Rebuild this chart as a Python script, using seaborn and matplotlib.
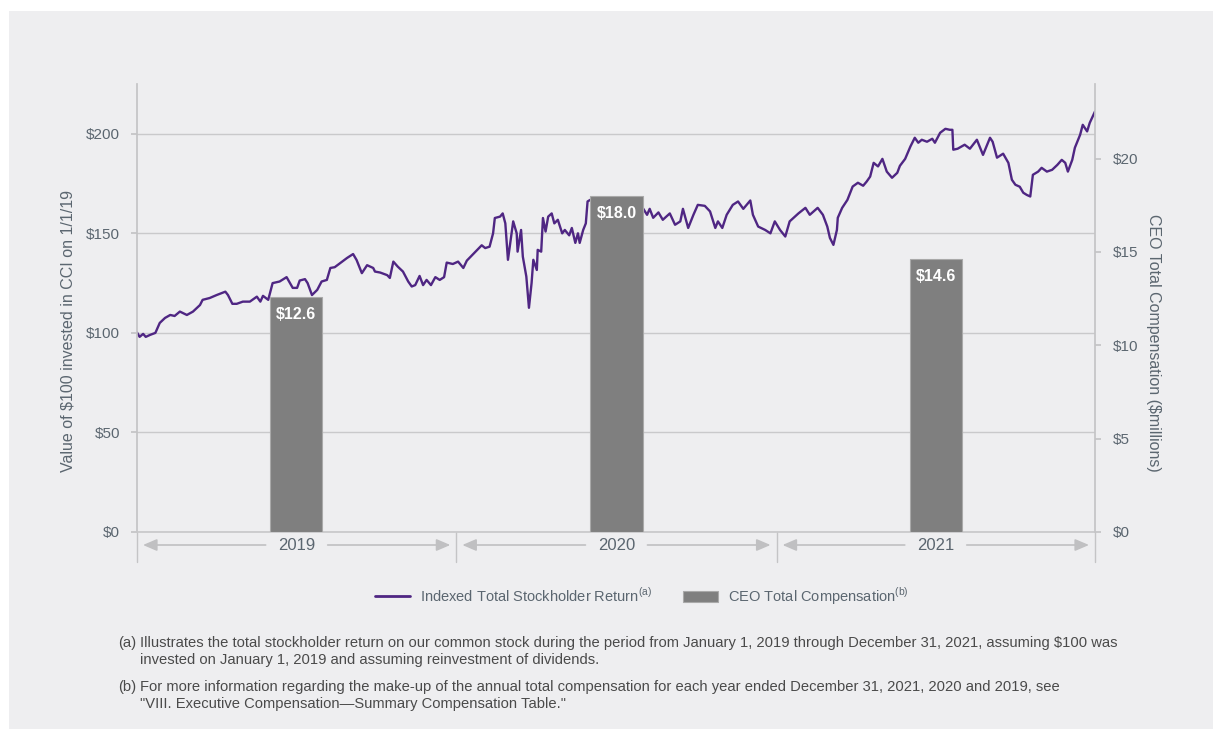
import numpy as np
import pandas as pd
import matplotlib
matplotlib.use("Agg")
import matplotlib.pyplot as plt
import matplotlib.transforms as mtransforms
import matplotlib.dates as mdates
from matplotlib.patches import Rectangle, Patch
from matplotlib.lines import Line2D
import seaborn as sns

sns.set_theme(style="white")
plt.rcParams['font.family'] = ['Liberation Sans', 'DejaVu Sans']
plt.rcParams['mathtext.fontset'] = 'custom'
plt.rcParams['mathtext.rm'] = 'Liberation Sans'

# ---------------- data ----------------
# days after 2019-01-01 and indexed TSR value
tsr_day = [0, 3, 7, 10, 15, 21, 26, 32, 38, 43, 49, 57, 64, 72, 75, 83, 91, 101, 104, 109,
           114, 121, 129, 137, 141, 144, 150, 155, 163, 171, 178, 183, 186, 192, 195, 200, 206,
           211, 217, 221, 226, 232, 240, 247, 251, 257, 263, 270, 272, 278, 286, 289, 293, 298,
           304, 310, 314, 318, 323, 327, 331, 336, 341, 346, 351, 354, 361, 367, 373, 377, 383,
           389, 394, 398, 403, 407, 409, 415, 418, 421, 424, 430, 434, 435, 439, 441, 445, 448,
           451, 453, 457, 458, 462, 464, 467, 470, 474, 477, 481, 486, 489, 494, 497, 501, 504,
           506, 510, 513, 515, 518, 535, 560, 577, 583, 586, 590, 596, 601, 609, 615, 621, 624,
           630, 636, 641, 649, 655, 661, 664, 669, 674, 681, 687, 693, 701, 704, 710, 718, 724,
           729, 735, 741, 746, 756, 764, 769, 778, 784, 789, 792, 796, 800, 801, 806, 812, 818,
           824, 830, 834, 838, 842, 847, 852, 857, 863, 869, 872, 878, 884, 889, 893, 897, 903,
           909, 912, 918, 924, 929, 932, 933, 938, 946, 952, 960, 967, 975, 978, 983, 990, 996,
           1000, 1004, 1009, 1013, 1017, 1021, 1024, 1030, 1034, 1040, 1046, 1052, 1057, 1061,
           1064, 1069, 1072, 1078, 1081, 1086, 1089, 1095]
tsr_value = [100.2, 98.0, 99.5, 98.0, 99.0, 100.0, 105.0, 107.5, 109.0, 108.5, 110.7, 109.0,
             110.7, 114.0, 116.6, 117.5, 119.0, 120.7, 119.0, 114.6, 114.6, 115.7, 115.7, 118.2,
             115.7, 118.6, 116.6, 125.0, 125.8, 128.0, 122.6, 122.6, 126.3, 127.0, 125.0, 119.0,
             121.6, 125.8, 126.6, 132.6, 133.0, 135.0, 137.6, 139.6, 136.6, 130.0, 134.0, 132.6,
             130.8, 130.3, 129.0, 127.6, 135.8, 133.3, 130.8, 125.8, 123.3, 124.0, 128.6, 124.0,
             126.6, 124.0, 128.0, 126.6, 128.0, 135.3, 134.6, 135.8, 132.6, 136.3, 139.0, 141.7,
             144.0, 142.6, 143.3, 150.0, 157.7, 158.4, 160.0, 155.0, 136.7, 156.0, 150.0, 140.8,
             151.7, 138.3, 128.3, 112.6, 125.0, 136.7, 131.6, 141.7, 140.8, 157.7, 150.9, 158.4,
             160.0, 155.0, 156.8, 150.0, 151.7, 149.0, 152.7, 145.2, 150.0, 145.2, 151.7, 155.0,
             166.0, 166.8, 165.0, 164.0, 163.5, 159.3, 162.3, 157.8, 160.5, 156.8, 160.0, 154.3,
             156.0, 162.3, 152.7, 159.3, 164.3, 163.8, 161.0, 152.7, 156.0, 152.7, 159.3, 164.3,
             166.0, 162.3, 166.5, 159.3, 153.4, 151.7, 150.0, 156.0, 151.7, 148.4, 156.0, 160.0,
             162.8, 159.3, 162.8, 159.3, 153.4, 147.7, 144.2, 151.7, 157.8, 162.8, 166.8, 173.5,
             175.4, 173.9, 176.0, 178.5, 185.4, 183.6, 187.4, 181.0, 177.9, 180.4, 183.9, 187.4,
             193.6, 198.0, 195.5, 197.0, 196.0, 197.5, 195.5, 200.5, 202.5, 202.0, 202.0, 192.0,
             192.5, 194.5, 192.5, 197.0, 189.4, 198.0, 196.0, 188.0, 190.0, 185.4, 176.9, 174.4,
             173.4, 170.4, 169.3, 168.5, 179.4, 181.0, 182.9, 181.0, 181.9, 184.4, 186.9, 185.4,
             181.0, 186.9, 193.0, 199.5, 204.5, 201.2, 205.5, 211.2]

years = ["2019", "2020", "2021"]
ceo_comp = [12.6, 18.0, 14.6]

left_ticks = [0, 50, 100, 150, 200]
left_tick_labels = ["$0", "$50", "$100", "$150", "$200"]
right_ticks = [0, 5, 10, 15, 20]
right_tick_labels = ["$0", "$5", "$10", "$15", "$20"]

line_label = "Indexed Total Stockholder Return$^{\\mathregular{(a)}}$"
bar_label = "CEO Total Compensation$^{\\mathregular{(b)}}$"
left_ylabel = "Value of $100 invested in CCI on 1/1/19"
right_ylabel = "CEO Total Compensation ($millions)"
footnotes = [
    ("(a)", ["Illustrates the total stockholder return on our common stock during the period from January 1, 2019 through December 31, 2021, assuming $100 was",
             "invested on January 1, 2019 and assuming reinvestment of dividends."]),
    ("(b)", ["For more information regarding the make-up of the annual total compensation for each year ended December 31, 2021, 2020 and 2019, see",
             "\"VIII. Executive Compensation\u2014Summary Compensation Table.\""]),
]

# ---------------- styling ----------------
W, H = 1213, 729
PURPLE = "#4f2683"
BARC = "#7f7f7f"
TXT = "#5b6670"
GRID = "#c9c9cb"
SPINE = "#c4c4c6"
PANEL = "#eeeef0"

start = pd.Timestamp("2019-01-01")
end = pd.Timestamp("2021-12-31")
df = pd.DataFrame({"date": start + pd.to_timedelta(tsr_day, unit="D"), "value": tsr_value})

fig = plt.figure(figsize=(W / 100, H / 100), dpi=100, facecolor="white")
fig.patches.append(Rectangle((9 / W, 0), (W - 9) / W, (H - 11) / H, transform=fig.transFigure,
                             facecolor=PANEL, edgecolor="none", zorder=-10))

ax = fig.add_axes([137 / W, (H - 532) / H, 958 / W, 448 / H])
ax.set_facecolor("none")
sns.lineplot(data=df, x="date", y="value", ax=ax, color=PURPLE, linewidth=1.7)
ax.set_xlim(start, end)
ax.set_ylim(0, 225)
ax.set_yticks(left_ticks, left_tick_labels)
ax.set_xticks([])
ax.set_xlabel("")
ax.set_ylabel("")
ax.grid(axis="y", color=GRID, linewidth=1)
ax.set_axisbelow(True)
for s in ["top", "right"]:
    ax.spines[s].set_visible(False)
ax.spines["left"].set_color(SPINE)
ax.spines["bottom"].set_color(GRID)
ax.tick_params(axis="y", length=4, color=SPINE, labelcolor=TXT, labelsize=11, pad=8, left=True)

ax2 = ax.twinx()
bar_dates = [pd.Timestamp(f"{y}-07-02") for y in years]
ax2.bar(bar_dates, ceo_comp, width=60, color=BARC, edgecolor="#a9a9a9", linewidth=0.8, zorder=3)
ax2.set_ylim(0, 24)
ax2.set_yticks(right_ticks, right_tick_labels)
for s in ["top", "left", "bottom"]:
    ax2.spines[s].set_visible(False)
ax2.spines["right"].set_color(SPINE)
ax2.tick_params(axis="y", length=4, color=SPINE, labelcolor=TXT, labelsize=11, pad=9, right=True)
ax2.grid(False)
for d, v in zip(bar_dates, ceo_comp):
    ax2.annotate(f"${v:.1f}", xy=(mdates.date2num(d), v), xytext=(0, -7), textcoords="offset points",
                 ha="center", va="top", color="white", fontsize=11.5, fontweight="bold", zorder=4)

# year separators and arrows
trans = mtransforms.blended_transform_factory(ax.transData, ax.transAxes)
bounds = [mdates.date2num(t) for t in
          [start, pd.Timestamp("2020-01-01"), pd.Timestamp("2021-01-01"), end]]
px_day = 1095 / 958
for b in bounds:
    ax.plot([b, b], [0, -30 / 448], transform=trans, clip_on=False, color=SPINE, lw=1)
ya = -13 / 448
for i, y in enumerate(years):
    a, b = bounds[i], bounds[i + 1]
    mid = (a + b) / 2
    ax.text(mid, ya, y, transform=trans, ha="center", va="center", fontsize=12, color=TXT)
    for tail, head in [(mid - 31 * px_day, a + 6 * px_day), (mid + 31 * px_day, b - 6 * px_day)]:
        ax.annotate("", xy=(head, ya), xytext=(tail, ya), xycoords=trans, textcoords=trans,
                    arrowprops=dict(arrowstyle="-|>,head_length=0.7,head_width=0.3",
                                    color="#c0c0c2", lw=1.2, shrinkA=0, shrinkB=0,
                                    mutation_scale=12))

# axis labels
fig.text(68 / W, 1 - 331 / H, left_ylabel, rotation=90, ha="center", va="center",
         fontsize=11.5, color=TXT)
fig.text(1153 / W, 1 - 343 / H, right_ylabel, rotation=270, ha="center", va="center",
         fontsize=11.5, color=TXT)

# legend
handles = [Line2D([], [], color=PURPLE, lw=2),
           Patch(facecolor=BARC, edgecolor="#a9a9a9", linewidth=0.8)]
fig.legend(handles, [line_label, bar_label], loc="center", bbox_to_anchor=(642 / W, 1 - 596 / H),
           ncol=2, frameon=False, fontsize=10.5, handlelength=2.4, handletextpad=0.7,
           columnspacing=2.1, labelcolor=TXT)

# footnotes
fy = [643, 687]
for (tag, lines), y0 in zip(footnotes, fy):
    fig.text(118 / W, 1 - y0 / H, tag, ha="left", va="center", fontsize=10.6, color="#4a4a4a")
    for k, ln in enumerate(lines):
        fig.text(140 / W, 1 - (y0 + 17 * k) / H, ln, ha="left", va="center", fontsize=10.6,
                 color="#4a4a4a")

fig.savefig("out.png", dpi=100, facecolor="white")
